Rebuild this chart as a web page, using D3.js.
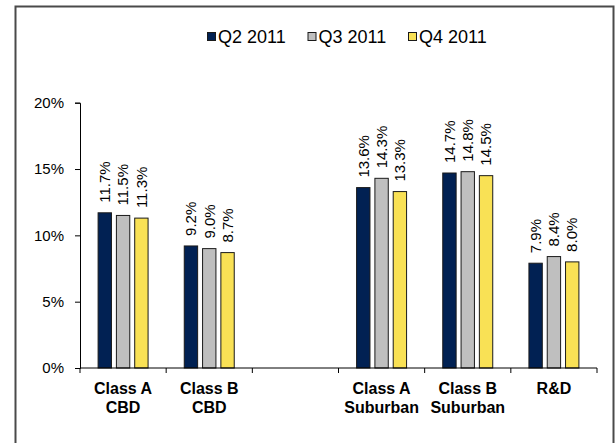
<!DOCTYPE html>
<html>
<head>
<meta charset="utf-8">
<script src="https://cdn.jsdelivr.net/npm/d3@7"></script>
<style>
  html, body { margin: 0; padding: 0; background: #fff; }
  svg text { font-family: "Liberation Sans", Arial, sans-serif; fill: #000; }
</style>
</head>
<body>
<svg id="chart" width="616" height="443"></svg>
<script>
const categories = [["Class A", "CBD"], ["Class B", "CBD"], ["", ""], ["Class A", "Suburban"], ["Class B", "Suburban"], ["R&D", ""]];
const seriesNames = ["Q2 2011", "Q3 2011", "Q4 2011"];
const q2 = [11.7, 9.2, null, 13.6, 14.7, 7.9];
const q3 = [11.5, 9.0, null, 14.3, 14.8, 8.4];
const q4 = [11.3, 8.7, null, 13.3, 14.5, 8.0];
const yTicks = [0, 5, 10, 15, 20];
const colors = ["#012153", "#bfbfbf", "#f9e155"];

const seriesValues = [q2, q3, q4];
const svg = d3.select("#chart");

// outer frame
svg.append("rect").attr("x", 15.5).attr("y", 6.5).attr("width", 598).attr("height", 460)
  .attr("fill", "none").attr("stroke", "#4a4a4a").attr("stroke-width", 2);

const x0 = d3.scaleBand().domain(d3.range(categories.length)).range([80, 597]).padding(0);
const x1 = d3.scaleBand().domain(d3.range(seriesNames.length))
  .range([x0.step() * 0.21, x0.step() * 0.79]).paddingInner(0.27);
const y = d3.scaleLinear().domain([0, 20]).range([368, 102.7]);

// bars
const groups = svg.append("g").selectAll("g").data(categories).join("g")
  .attr("transform", (d, i) => `translate(${x0(i)},0)`);

groups.each(function(d, ci) {
  const g = d3.select(this);
  seriesValues.forEach((vals, si) => {
    const v = vals[ci];
    if (v == null) return;
    g.append("rect")
      .attr("x", x1(si)).attr("y", y(v))
      .attr("width", x1.bandwidth()).attr("height", y(0) - y(v))
      .attr("fill", colors[si]).attr("stroke", "#1a1a1a").attr("stroke-width", 1);
    const cx = x1(si) + x1.bandwidth() / 2;
    g.append("text")
      .attr("transform", `translate(${cx},${y(v) - 10}) rotate(-90)`)
      .attr("dy", "0.35em")
      .attr("font-size", 15)
      .attr("text-anchor", "start")
      .text(v.toFixed(1) + "%");
  });
});

// y axis
const yAxis = svg.append("g").attr("transform", "translate(80,0)")
  .call(d3.axisLeft(y).tickValues(yTicks).tickFormat(d => d + "%").tickSize(5).tickPadding(11));
yAxis.select(".domain").attr("stroke", "#000");
yAxis.selectAll("line").attr("stroke", "#000");
yAxis.selectAll("text").attr("font-size", 15).attr("font-family", "Liberation Sans, Arial, sans-serif");

// x axis
const xAxisG = svg.append("g").attr("transform", `translate(0,${y(0)})`);
xAxisG.append("line").attr("x1", 80).attr("x2", 597).attr("y1", 0).attr("y2", 0).attr("stroke", "#000");
const boundaries = d3.range(categories.length + 1).map(i => i < categories.length ? x0(i) : x0(categories.length - 1) + x0.step());
xAxisG.selectAll("line.tk").data(boundaries).join("line").attr("class", "tk")
  .attr("x1", d => d).attr("x2", d => d).attr("y1", 0).attr("y2", 5).attr("stroke", "#000");

// category labels
categories.forEach((lines, i) => {
  const cx = x0(i) + x0.step() / 2;
  lines.forEach((t, li) => {
    if (!t) return;
    svg.append("text").attr("x", cx).attr("y", 394 + li * 19)
      .attr("text-anchor", "middle").attr("font-size", 16).attr("font-weight", "bold")
      .text(t);
  });
});

// legend
const legend = svg.append("g").attr("transform", "translate(207,32)");
seriesNames.forEach((name, i) => {
  const g = legend.append("g").attr("transform", `translate(${i * 100.5},0)`);
  g.append("rect").attr("x", 0.5).attr("y", 0.5).attr("width", 8).attr("height", 8)
    .attr("fill", colors[i]).attr("stroke", "#1a1a1a").attr("stroke-width", 1);
  g.append("text").attr("x", 11).attr("y", 10.7).attr("font-size", 18).text(name);
});
</script>
</body>
</html>
